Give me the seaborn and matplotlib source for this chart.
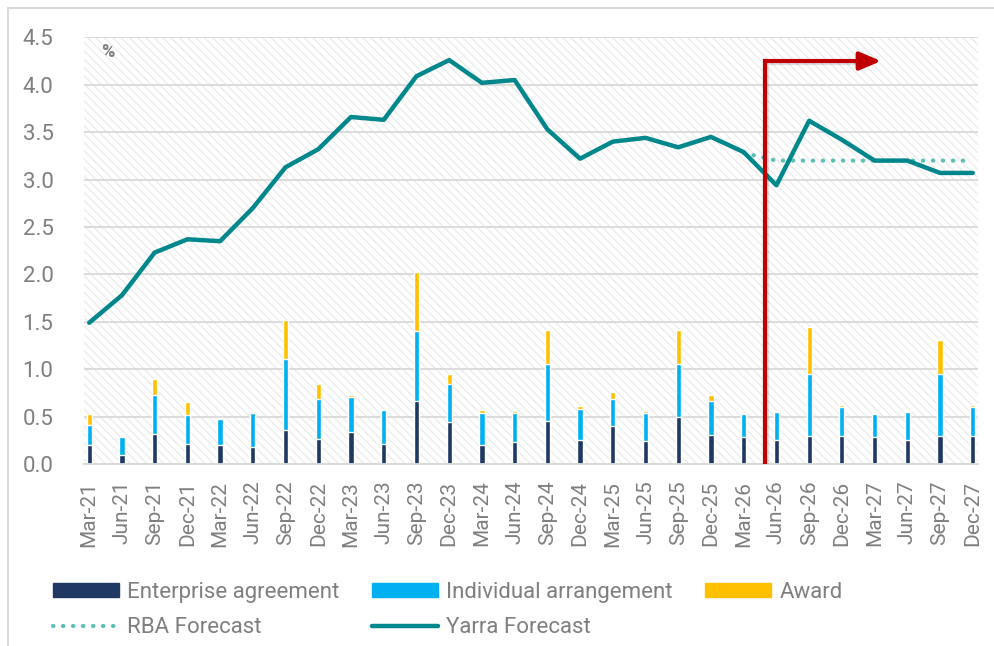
# Wage growth by pay-setting method, with Yarra and RBA forecasts
import numpy as np
import pandas as pd
import matplotlib
matplotlib.use('Agg')
import matplotlib.pyplot as plt
import seaborn as sns
from matplotlib.patches import Rectangle, Patch
from matplotlib.lines import Line2D
import matplotlib.patheffects as pe

quarters = ['Mar-21', 'Jun-21', 'Sep-21', 'Dec-21', 'Mar-22', 'Jun-22', 'Sep-22',
            'Dec-22', 'Mar-23', 'Jun-23', 'Sep-23', 'Dec-23', 'Mar-24', 'Jun-24',
            'Sep-24', 'Dec-24', 'Mar-25', 'Jun-25', 'Sep-25', 'Dec-25', 'Mar-26',
            'Jun-26', 'Sep-26', 'Dec-26', 'Mar-27', 'Jun-27', 'Sep-27', 'Dec-27']

# contributions (percentage points)
enterprise = [0.20, 0.09, 0.32, 0.21, 0.20, 0.18, 0.36, 0.26, 0.34, 0.21, 0.66, 0.44, 0.20, 0.23,
              0.45, 0.25, 0.40, 0.24, 0.50, 0.31, 0.28, 0.25, 0.30, 0.30, 0.28, 0.25, 0.30, 0.30]
individual = [0.21, 0.19, 0.41, 0.31, 0.28, 0.36, 0.75, 0.43, 0.37, 0.36, 0.74, 0.40, 0.34, 0.31,
              0.60, 0.33, 0.29, 0.30, 0.55, 0.35, 0.25, 0.30, 0.65, 0.30, 0.25, 0.30, 0.65, 0.30]
award = [0.12, 0.01, 0.17, 0.13, 0.01, 0.00, 0.41, 0.15, 0.02, 0.00, 0.63, 0.11, 0.03, 0.02,
         0.36, 0.03, 0.07, 0.02, 0.36, 0.07, 0.01, 0.01, 0.49, 0.02, 0.01, 0.01, 0.36, 0.02]

yarra = [1.49, 1.78, 2.23, 2.37, 2.35, 2.70, 3.13, 3.32, 3.66, 3.63, 4.09, 4.26, 4.02, 4.05,
         3.53, 3.22, 3.40, 3.44, 3.34, 3.45, 3.29, 2.94, 3.62, 3.42, 3.20, 3.20, 3.07, 3.07]
rba = [np.nan] * 20 + [3.28, 3.20, 3.20, 3.20, 3.20, 3.20, 3.20, 3.20]

navy = '#1f3864'
blue = '#00b0f0'
yellow = '#ffc000'
teal = '#00878c'
teal_light = '#5bbfb5'
red = '#c00000'
grey_txt = '#7f7f7f'
grid_c = '#d9d9d9'

df = pd.DataFrame({'q': quarters, 'ea': enterprise, 'ia': individual, 'aw': award})
df['lvl2'] = df['ea'] + df['ia']
df['lvl3'] = df['lvl2'] + df['aw']

sns.set_style('white')
plt.rcParams['font.family'] = ['Roboto', 'DejaVu Sans']

fig = plt.figure(figsize=(9.95, 6.46), dpi=100)
ax = fig.add_axes([0.0844, 0.2817, 0.8985, 0.6605])

# hatched plot area
plt.rcParams['hatch.linewidth'] = 0.8
ax.add_patch(Rectangle((0, 0), 1, 1, transform=ax.transAxes, facecolor='white',
                       edgecolor='#e9e9e9', hatch='\\' * 4, lw=0, zorder=0))

# stacked bars drawn as overlapping totals
sns.barplot(data=df, x='q', y='lvl3', order=quarters, color=yellow, width=0.16,
            saturation=1, ax=ax, zorder=2)
sns.barplot(data=df, x='q', y='lvl2', order=quarters, color=blue, width=0.16,
            saturation=1, ax=ax, zorder=2)
sns.barplot(data=df, x='q', y='ea', order=quarters, color=navy, width=0.16,
            saturation=1, ax=ax, zorder=2)

pos = np.arange(len(quarters))
sns.lineplot(x=pos, y=rba, color=teal_light, lw=3, ax=ax, zorder=3,
             dashes=False, linestyle=(0, (0.1, 2.3)), dash_capstyle='round')
sns.lineplot(x=pos, y=yarra, color=teal, lw=3.2, ax=ax, zorder=4)

# red forecast marker
shadow = [pe.SimpleLineShadow(offset=(1.5, -1.5), alpha=0.12, shadow_color='black'), pe.Normal()]
ax.plot([20.64, 20.64, 23.6], [0, 4.25, 4.25], color=red, lw=3, zorder=6,
        solid_joinstyle='miter', solid_capstyle='butt', path_effects=shadow)
ax.annotate('', xy=(24.2, 4.25), xytext=(23.4, 4.25), zorder=6,
            arrowprops=dict(arrowstyle='-|>,head_length=1.3,head_width=0.55',
                            mutation_scale=10, color=red, lw=3, shrinkA=0, shrinkB=0))

ax.set_ylim(0, 4.5)
ax.set_xlim(-0.16, len(quarters) - 1 + 0.16)
ax.set_yticks(np.arange(0, 4.51, 0.5))
ax.set_yticklabels([f'{v:.1f}' for v in np.arange(0, 4.51, 0.5)])
ax.set_xticks(pos)
ax.set_xticklabels(quarters, rotation=90)
ax.set_xticks(pos - 0.16, minor=True)
ax.tick_params(axis='x', which='major', length=0, pad=12, labelsize=15, labelcolor=grey_txt)
ax.tick_params(axis='x', which='minor', length=8, width=1.2, color=grid_c)
ax.tick_params(axis='y', length=0, pad=22, labelsize=16, labelcolor=grey_txt)
ax.set_xlabel('')
ax.set_ylabel('')

ax.yaxis.grid(True, color=grid_c, lw=1.3)
ax.xaxis.grid(False)
ax.set_axisbelow(True)
for s in ['top', 'right', 'left']:
    ax.spines[s].set_visible(False)
ax.spines['bottom'].set_color(grid_c)
ax.spines['bottom'].set_linewidth(1.3)

ax.text(0.027, 0.965, '%', transform=ax.transAxes, ha='center', va='center',
        fontsize=13, fontweight='bold', color=grey_txt)

handles = [Patch(color=navy), Line2D([], [], color=teal_light, lw=3, linestyle=(0, (0.1, 2.3)),
                                     dash_capstyle='round'),
           Patch(color=blue), Line2D([], [], color=teal, lw=3.2),
           Patch(color=yellow)]
labels = ['Enterprise agreement', 'RBA Forecast', 'Individual arrangement', 'Yarra Forecast', 'Award']
fig.legend(handles, labels, ncol=3, loc='upper left', bbox_to_anchor=(0.053, 0.099),
           frameon=False, fontsize=16, labelcolor=grey_txt, handlelength=3.0,
           handleheight=0.6, handletextpad=0.35, columnspacing=1.45, labelspacing=0.65,
           borderpad=0, borderaxespad=0)

# chart border
fig.patches.append(Rectangle((0.0083, -0.1), 1.2, 1.0871, transform=fig.transFigure,
                             fill=False, edgecolor=grid_c, lw=1.5))

fig.savefig('out.png', dpi=100)
